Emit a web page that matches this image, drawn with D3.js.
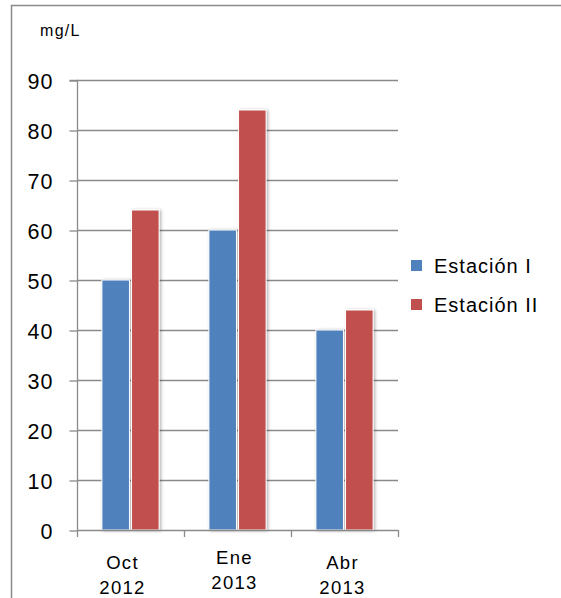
<!DOCTYPE html>
<html>
<head>
<meta charset="utf-8">
<script src="https://cdn.jsdelivr.net/npm/d3@7"></script>
<style>
  html, body { margin: 0; padding: 0; background: #fff; overflow: hidden; }
  svg { display: block; }
  text { font-family: "Liberation Sans", Arial, sans-serif; fill: #000; }
</style>
</head>
<body>
<svg id="chart" width="561" height="598"></svg>
<script>
// Concentración por estación de muestreo (mg/L)
const categories = [["Oct", "2012"], ["Ene", "2013"], ["Abr", "2013"]];
const seriesNames = ["Estación I", "Estación II"];
const estacionI = [50, 60, 40];
const estacionII = [64, 84, 44];
const yTicks = [0, 10, 20, 30, 40, 50, 60, 70, 80, 90];
const unitLabel = "mg/L";

const colors = ["#4F81BD", "#C0504D"];
const series = [estacionI, estacionII];
const axisGray = "#8a8a8a";

const svg = d3.select("#chart");

// outer chart frame: only its left and top edges fall inside the view
svg.append("path")
  .attr("d", "M11.5,598V5.5H561")
  .attr("fill", "none").attr("stroke", axisGray).attr("stroke-width", 1.5);

const defs = svg.append("defs");
const f = defs.append("filter").attr("id", "shadow")
  .attr("x", "-30%").attr("y", "-10%").attr("width", "160%").attr("height", "120%");
f.append("feDropShadow").attr("dx", 1.5).attr("dy", 0.5)
  .attr("stdDeviation", 1.6).attr("flood-color", "#000").attr("flood-opacity", 0.3);

const plot = { left: 77, right: 398, top: 80, bottom: 530 };

const x = d3.scaleBand()
  .domain(d3.range(categories.length))
  .range([plot.left, plot.right])
  .paddingInner(0).paddingOuter(0);

const y = d3.scaleLinear().domain([0, 90]).range([plot.bottom, plot.top]);

const inner = d3.scaleBand()
  .domain(d3.range(series.length))
  .range([0, x.bandwidth()])
  .paddingOuter(0.84).paddingInner(0.07);

// horizontal gridlines
svg.append("g").selectAll("line")
  .data(yTicks.filter(d => d > 0))
  .join("line")
  .attr("x1", plot.left).attr("x2", plot.right)
  .attr("y1", d => y(d) + 0.5).attr("y2", d => y(d) + 0.5)
  .attr("stroke", axisGray).attr("stroke-width", 1.3);

// bars
const groups = svg.append("g").selectAll("g")
  .data(categories.map((c, i) => i))
  .join("g")
  .attr("transform", i => `translate(${x(i)},0)`);

groups.selectAll("rect")
  .data(i => series.map((s, k) => ({ k, v: s[i] })))
  .join("rect")
  .attr("x", d => inner(d.k))
  .attr("width", inner.bandwidth())
  .attr("y", d => y(d.v))
  .attr("height", d => y(0) - y(d.v))
  .attr("fill", d => colors[d.k])
  .attr("stroke", "#fff").attr("stroke-width", 1)
  .attr("filter", "url(#shadow)");

// y axis
const yAxis = d3.axisLeft(y).tickValues(yTicks).tickSize(8).tickPadding(16);
const gy = svg.append("g").attr("transform", `translate(${plot.left + 0.5},0.5)`).call(yAxis);
gy.select(".domain").attr("stroke", axisGray).attr("stroke-width", 1.3)
  .attr("d", `M-8,${plot.top}H0V${plot.bottom}`);
gy.selectAll(".tick line").attr("stroke", axisGray).attr("stroke-width", 1.3);
gy.selectAll(".tick text")
  .style("font-family", "'Liberation Sans', Arial, sans-serif")
  .style("letter-spacing", "1px")
  .attr("font-size", 21.5).attr("fill", "#000").attr("dy", "0.36em");

// x axis line and category boundary ticks
svg.append("line")
  .attr("x1", plot.left).attr("x2", plot.right)
  .attr("y1", plot.bottom + 0.5).attr("y2", plot.bottom + 0.5)
  .attr("stroke", axisGray).attr("stroke-width", 1.3);
const boundaries = d3.range(categories.length + 1).map(i =>
  i < categories.length ? x(i) : x(i - 1) + x.bandwidth());
svg.append("g").selectAll("line").data(boundaries).join("line")
  .attr("x1", d => d + 0.5).attr("x2", d => d + 0.5)
  .attr("y1", plot.bottom).attr("y2", plot.bottom + 7)
  .attr("stroke", axisGray).attr("stroke-width", 1.3);

// category labels (two lines each)
const labelShift = [{ dx: -8, dy: 0 }, { dx: -3, dy: -5 }, { dx: -2, dy: 0 }];
const lbl = svg.append("g").selectAll("text")
  .data(categories.map((c, i) => i))
  .join("text")
  .attr("text-anchor", "middle")
  .attr("font-size", 18.5)
  .style("letter-spacing", "1.3px")
  .attr("transform", i => `translate(${x(i) + x.bandwidth() / 2 + labelShift[i].dx},${569 + labelShift[i].dy})`);
lbl.append("tspan").attr("x", 0).attr("y", 0).text(i => categories[i][0]);
lbl.append("tspan").attr("x", 0).attr("y", 25).text(i => categories[i][1]);

// unit label
svg.append("text").attr("x", 40).attr("y", 36).attr("font-size", 16)
  .style("letter-spacing", "1.3px").text(unitLabel);

// legend
const leg = svg.append("g").selectAll("g").data(seriesNames).join("g")
  .attr("transform", (d, i) => `translate(411,${260 + i * 39})`);
leg.append("rect").attr("width", 11).attr("height", 11).attr("fill", (d, i) => colors[i]);
leg.append("text").attr("x", 23).attr("y", 13).attr("font-size", 20)
  .style("letter-spacing", "1px").text(d => d);
</script>
</body>
</html>
